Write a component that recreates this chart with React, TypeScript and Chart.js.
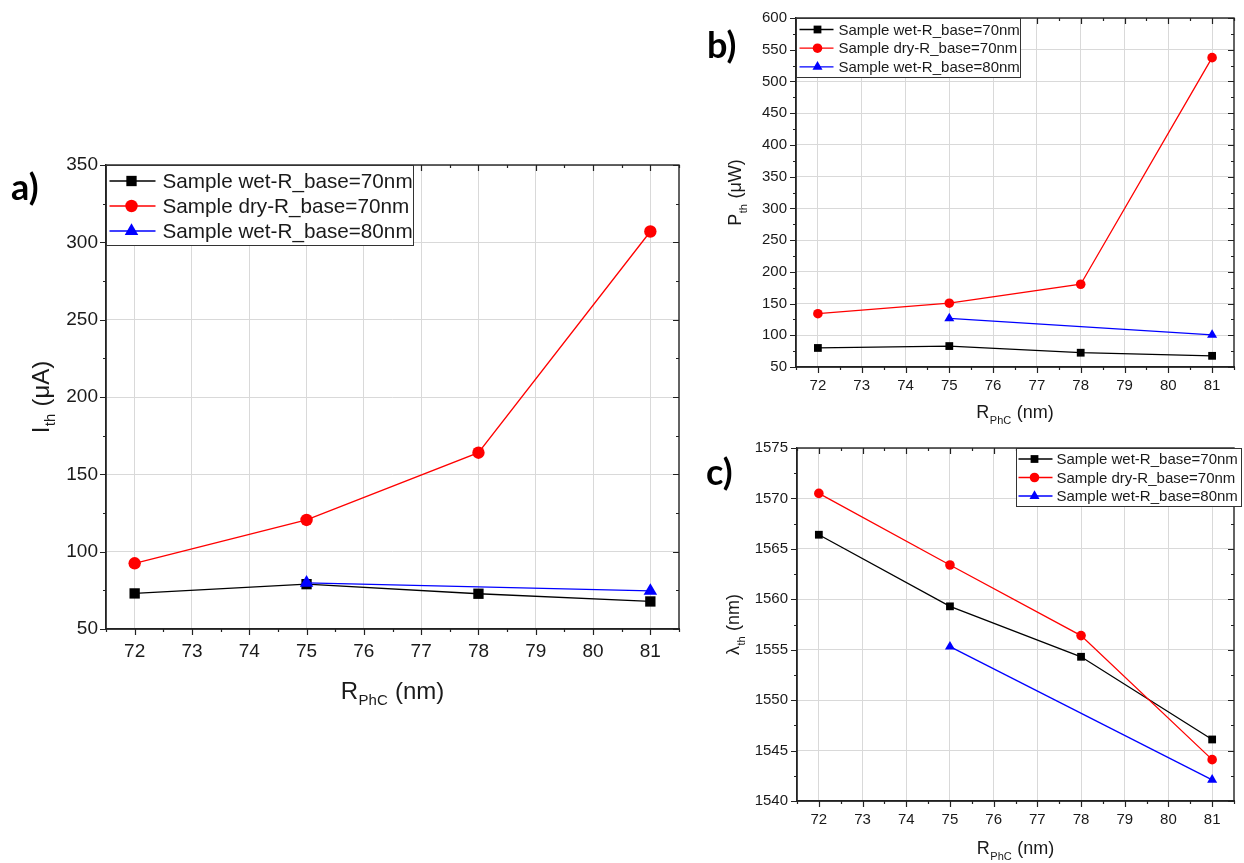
import React, { useEffect, useRef } from "react";
import { Chart, registerables } from "chart.js";

Chart.register(...registerables);

// ---------------- DATA ----------------
const xValues = [72, 75, 78, 81];
const seriesLabels = [
  "Sample wet-R_base=70nm",
  "Sample dry-R_base=70nm",
  "Sample wet-R_base=80nm",
];
const seriesColors = ["#000000", "#ff0000", "#0000ff"];
const seriesMarkers = ["rect", "circle", "triangle"];

// a) threshold current (µA)
const ithWet70 = [73, 79, 72.8, 67.8];
const ithDry70 = [92.5, 120.5, 164, 307];
const ithWet80 = [null, 79.8, null, 74.6];

// b) threshold power (µW)
const pthWet70 = [80, 83, 72.5, 67.6];
const pthDry70 = [134, 150.5, 180.4, 537.5];
const pthWet80 = [null, 126.5, null, 100.5];

// c) lasing wavelength (nm)
const lamWet70 = [1566.4, 1559.3, 1554.3, 1546.1];
const lamDry70 = [1570.5, 1563.4, 1556.4, 1544.1];
const lamWet80 = [null, 1555.3, null, 1542.1];

// ---------------- STYLE ----------------
const FONT = '"Liberation Sans", Arial, "DejaVu Sans", sans-serif';
const AXIS_COLOR = "#222222";
const GRID_COLOR = "#d9d9d9";
const TEXT_COLOR = "#1a1a1a";

const isMajor = (v: number, step: number) =>
  Math.abs(v / step - Math.round(v / step)) < 1e-6;

type Panel = any;

const panels: Panel[] = [
  {
    id: "a",
    label: "a)",
    labelPos: { left: 11, top: 168 },
    canvas: { left: 0, top: 140, width: 700, height: 590 },
    plot: { left: 106, top: 165, right: 679, bottom: 629 },
    yMin: 50, yMax: 350, yMajor: 50, yMinor: 25,
    tickFont: 19, titleFont: 24, legendFont: 20.7,
    tickPadY: 8, tickPadX: 11,
    xTitleOffset: 61, yTitleOffset: 66,
    yTitle: ["I", "th", " (\u03bcA)"],
    legend: { dx: 0.5, width: 307, height: 80, rows: [15.5, 40.5, 65.5], line: [3, 49], marker: 25, text: 56 },
    markerR: { rect: 7.3, circle: 6.2, triangle: 7.8 },
    data: [ithWet70, ithDry70, ithWet80],
  },
  {
    id: "b",
    label: "b)",
    labelPos: { left: 707, top: 26 },
    canvas: { left: 700, top: 0, width: 544, height: 430 },
    plot: { left: 796, top: 13, right: 1236, bottom: 367 },
    yMin: 50, yMax: 600, yMajor: 50, yMinor: 25,
    tickFont: 15, titleFont: 18, legendFont: 15,
    tickPadY: 9, tickPadX: 10,
    xTitleOffset: 45, yTitleOffset: 61,
    yTitle: ["P", "th", " (\u03bcW)"],
    legend: { dx: 0.5, width: 224, height: 59, rows: [11, 29.7, 48.3], line: [3, 37], marker: 21, text: 42 },
    markerR: { rect: 5.5, circle: 4.8, triangle: 5.8 },
    data: [pthWet70, pthDry70, pthWet80],
  },
  {
    id: "c",
    label: "c)",
    labelPos: { left: 706, top: 453 },
    canvas: { left: 700, top: 430, width: 544, height: 433 },
    plot: { left: 797, top: 444, right: 1240, bottom: 801 },
    yMin: 1540, yMax: 1575, yMajor: 5, yMinor: 2.5,
    tickFont: 15, titleFont: 18, legendFont: 15,
    tickPadY: 9, tickPadX: 10,
    xTitleOffset: 47, yTitleOffset: 64,
    yTitle: ["\u03bb", "th", " (nm)"],
    legend: { dx: 219.5, width: 225, height: 58, rows: [10.5, 29, 47.5], line: [2, 36], marker: 18, text: 40 },
    markerR: { rect: 5.5, circle: 4.8, triangle: 5.8 },
    data: [lamWet70, lamDry70, lamWet80],
  },
];

// ---------------- DRAW HELPERS ----------------
function drawMarker(ctx: CanvasRenderingContext2D, style: string, x: number, y: number, r: number, color: string) {
  ctx.fillStyle = color;
  ctx.beginPath();
  if (style === "rect") {
    const s = r * Math.SQRT1_2;
    ctx.rect(x - s, y - s, 2 * s, 2 * s);
  } else if (style === "circle") {
    ctx.arc(x, y, r, 0, Math.PI * 2);
  } else {
    let rad = 0;
    ctx.moveTo(x + Math.sin(rad) * r, y - Math.cos(rad) * r);
    rad += (2 * Math.PI) / 3;
    ctx.lineTo(x + Math.sin(rad) * r, y - Math.cos(rad) * r);
    rad += (2 * Math.PI) / 3;
    ctx.lineTo(x + Math.sin(rad) * r, y - Math.cos(rad) * r);
    ctx.closePath();
  }
  ctx.fill();
}

function drawSubTitle(ctx: CanvasRenderingContext2D, parts: string[], size: number, cx: number, cy: number, rotate: boolean) {
  const mainFont = `${size}px ${FONT}`;
  const subSize = Math.round(size * 0.62);
  const subFont = `${subSize}px ${FONT}`;
  ctx.save();
  ctx.translate(cx, cy);
  if (rotate) ctx.rotate(-Math.PI / 2);
  ctx.fillStyle = TEXT_COLOR;
  ctx.textBaseline = "alphabetic";
  ctx.textAlign = "left";
  ctx.font = mainFont;
  const w0 = ctx.measureText(parts[0]).width;
  const w2 = ctx.measureText(parts[2]).width;
  ctx.font = subFont;
  const w1 = ctx.measureText(parts[1]).width;
  const total = w0 + w1 + w2 + 1;
  let x = -total / 2;
  const base = size * 0.36;
  ctx.font = mainFont;
  ctx.fillText(parts[0], x, base);
  x += w0 + 0.5;
  ctx.font = subFont;
  ctx.fillText(parts[1], x, base + size * 0.28);
  x += w1 + 0.5;
  ctx.font = mainFont;
  ctx.fillText(parts[2], x, base);
  ctx.restore();
}

function makeDecorPlugin(p: Panel) {
  return {
    id: "decor_" + p.id,
    afterDraw(chart: any) {
      const ctx: CanvasRenderingContext2D = chart.ctx;
      const { left, top, right, bottom } = chart.chartArea;
      const xs = chart.scales.x;
      const ys = chart.scales.y;
      ctx.save();
      // frame
      ctx.strokeStyle = AXIS_COLOR;
      ctx.lineWidth = 1.4;
      ctx.strokeRect(left, top, right - left, bottom - top);
      // tick marks
      ctx.lineWidth = 1.2;
      ctx.beginPath();
      xs.ticks.forEach((t: any) => {
        const px = Math.round(xs.getPixelForValue(t.value)) + 0.5;
        const len = isMajor(t.value, 1) ? 6 : 3;
        ctx.moveTo(px, bottom);
        ctx.lineTo(px, bottom + len);
        ctx.moveTo(px, top);
        ctx.lineTo(px, top + len);
      });
      ys.ticks.forEach((t: any) => {
        const py = Math.round(ys.getPixelForValue(t.value)) + 0.5;
        const len = isMajor(t.value, p.yMajor) ? 6 : 3;
        ctx.moveTo(left - len, py);
        ctx.lineTo(left, py);
        ctx.moveTo(right, py);
        ctx.lineTo(right - len, py);
      });
      ctx.stroke();

      // axis titles
      drawSubTitle(ctx, ["R", "PhC", " (nm)"], p.titleFont, (left + right) / 2, bottom + p.xTitleOffset, false);
      drawSubTitle(ctx, p.yTitle, p.titleFont, left - p.yTitleOffset, (top + bottom) / 2, true);

      // legend
      const L = p.legend;
      const lx = left + L.dx;
      const ly = top + 0.5;
      ctx.fillStyle = "#ffffff";
      ctx.fillRect(lx, ly, L.width, L.height);
      ctx.strokeStyle = "#333333";
      ctx.lineWidth = 1;
      ctx.strokeRect(lx, ly, L.width, L.height);
      ctx.font = `${p.legendFont}px ${FONT}`;
      ctx.textBaseline = "middle";
      ctx.textAlign = "left";
      seriesLabels.forEach((lab, i) => {
        const ry = ly + L.rows[i];
        ctx.strokeStyle = seriesColors[i];
        ctx.lineWidth = 1.3;
        ctx.beginPath();
        ctx.moveTo(lx + L.line[0], ry);
        ctx.lineTo(lx + L.line[1], ry);
        ctx.stroke();
        drawMarker(ctx, seriesMarkers[i], lx + L.marker, ry, p.markerR[seriesMarkers[i]], seriesColors[i]);
        ctx.fillStyle = TEXT_COLOR;
        ctx.fillText(lab, lx + L.text, ry + 1);
      });
      ctx.restore();
    },
  };
}

function buildConfig(p: Panel): any {
  const padTop = p.plot.top - p.canvas.top;
  const padRight = p.canvas.left + p.canvas.width - p.plot.right;
  const yAxisW = p.plot.left - p.canvas.left;
  const xAxisH = p.canvas.top + p.canvas.height - p.plot.bottom;
  const datasets = seriesLabels.map((lab, i) => {
    const arr = p.data[i];
    const pts = xValues
      .map((x, k) => ({ x, y: arr[k] }))
      .filter((pt) => pt.y !== null && pt.y !== undefined);
    return {
      label: lab,
      data: pts,
      borderColor: seriesColors[i],
      backgroundColor: seriesColors[i],
      pointBackgroundColor: seriesColors[i],
      pointBorderColor: seriesColors[i],
      pointBorderWidth: 0,
      pointStyle: seriesMarkers[i],
      pointRadius: p.markerR[seriesMarkers[i]],
      borderWidth: 1.3,
      tension: 0,
      fill: false,
      order: 3 - i,
    };
  });
  const tickFont = { family: FONT, size: p.tickFont };
  return {
    type: "line",
    data: { datasets },
    options: {
      animation: false,
      responsive: false,
      maintainAspectRatio: false,
      layout: { padding: { top: padTop, right: padRight, left: 0, bottom: 0 } },
      plugins: {
        legend: { display: false },
        tooltip: { enabled: false },
        title: { display: false },
      },
      scales: {
        x: {
          type: "linear",
          min: 71.5,
          max: 81.5,
          afterFit: (s: any) => {
            s.height = xAxisH;
          },
          ticks: {
            stepSize: 0.5,
            autoSkip: false,
            maxTicksLimit: 100,
            maxRotation: 0,
            minRotation: 0,
            padding: p.tickPadX,
            font: tickFont,
            color: TEXT_COLOR,
            callback: (v: any) => (isMajor(Number(v), 1) ? String(Math.round(Number(v))) : ""),
          },
          grid: {
            drawTicks: false,
            lineWidth: 1,
            color: (c: any) =>
              c.tick && isMajor(c.tick.value, 1) ? GRID_COLOR : "rgba(0,0,0,0)",
          },
          border: { display: true, color: AXIS_COLOR, width: 1.4 },
        },
        y: {
          type: "linear",
          min: p.yMin,
          max: p.yMax,
          afterFit: (s: any) => {
            s.width = yAxisW;
          },
          ticks: {
            stepSize: p.yMinor,
            autoSkip: false,
            maxTicksLimit: 100,
            padding: p.tickPadY,
            font: tickFont,
            color: TEXT_COLOR,
            callback: (v: any) => (isMajor(Number(v), p.yMajor) ? String(Math.round(Number(v))) : ""),
          },
          grid: {
            drawTicks: false,
            lineWidth: 1,
            color: (c: any) =>
              c.tick && isMajor(c.tick.value, p.yMajor) ? GRID_COLOR : "rgba(0,0,0,0)",
          },
          border: { display: true, color: AXIS_COLOR, width: 1.4 },
        },
      },
    },
    plugins: [makeDecorPlugin(p)],
  };
}

function PanelChart({ p }: { p: Panel }) {
  const ref = useRef<HTMLCanvasElement | null>(null);
  useEffect(() => {
    if (!ref.current) return;
    const chart = new Chart(ref.current, buildConfig(p));
    return () => chart.destroy();
  }, [p]);
  return (
    <>
      <canvas
        ref={ref}
        width={p.canvas.width}
        height={p.canvas.height}
        style={{
          position: "absolute",
          left: p.canvas.left,
          top: p.canvas.top,
          width: p.canvas.width,
          height: p.canvas.height,
        }}
      />
      <div
        style={{
          position: "absolute",
          left: p.labelPos.left,
          top: p.labelPos.top,
          fontFamily: 'Lato, "Liberation Sans", Arial, sans-serif',
          fontWeight: 700,
          fontSize: 36,
          lineHeight: "36px",
          color: "#000",
        }}
      >
        {p.label}
      </div>
    </>
  );
}

export default function App() {
  return (
    <div
      style={{
        position: "fixed",
        left: 0,
        top: 0,
        width: 1244,
        height: 863,
        background: "#ffffff",
        overflow: "hidden",
      }}
    >
      {panels.map((p) => (
        <PanelChart key={p.id} p={p} />
      ))}
    </div>
  );
}
